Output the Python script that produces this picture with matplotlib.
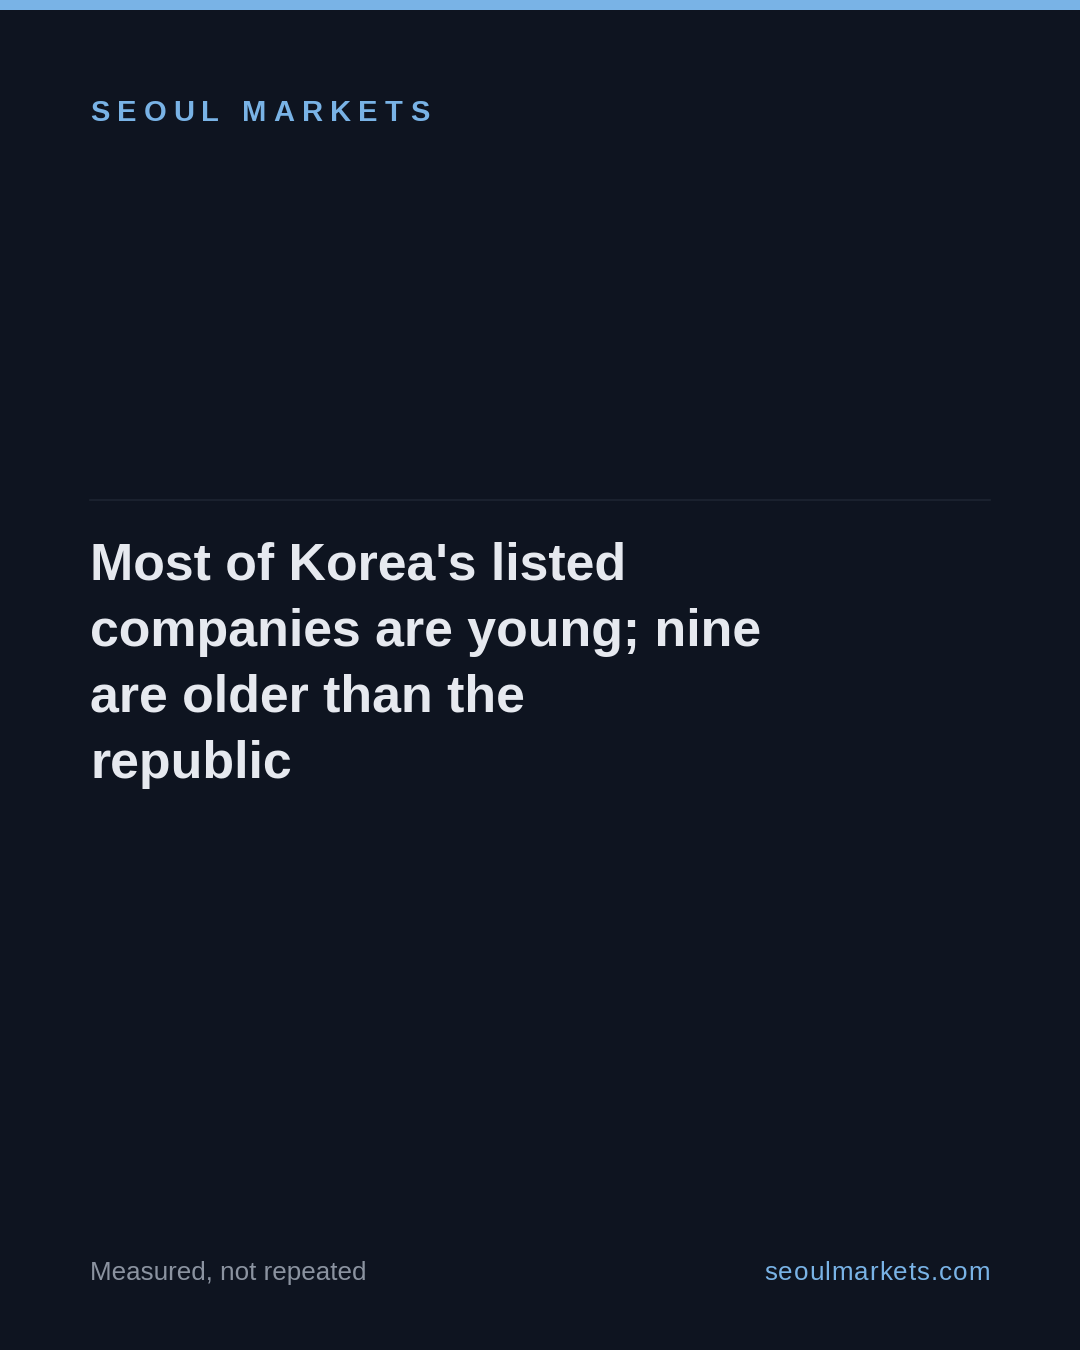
import matplotlib
matplotlib.use("Agg")
import matplotlib.pyplot as plt
from matplotlib.patches import Rectangle
from matplotlib.lines import Line2D

W, H = 1080, 1350
bg = "#0e1420"
accent = "#79b3e6"

brand = "SEOUL MARKETS"
title_lines = ["Most of Korea's listed", "companies are young; nine", "are older than the", "republic"]
footer_left = "Measured, not repeated"
footer_right = "seoulmarkets.com"

plt.rcParams["font.family"] = ["Liberation Sans", "DejaVu Sans"]

fig = plt.figure(figsize=(W / 100, H / 100), dpi=100)
fig.patch.set_facecolor(bg)

def px(x, y):
    # pixel coords from top-left to figure fraction
    return x / W, 1 - y / H

def spaced(text, x, y, gap, **kw):
    # draw text char by char with extra tracking, returns end x
    r = fig.canvas.get_renderer()
    for ch in text:
        t = fig.text(*px(x, y), ch, ha="left", va="baseline", **kw)
        w = t.get_window_extent(r).width if ch != " " else kw["fontsize"] * 0.28 * 100 / 72
        x += w + gap
    return x

fig.canvas.draw()

# top accent bar
fig.patches.append(Rectangle((0, 1 - 10 / H), 1, 10 / H, transform=fig.transFigure,
                             facecolor=accent, edgecolor="none"))

# brand
spaced(brand, 90, 121, 7.2, fontsize=21, fontweight="bold", color=accent)

# divider
fig.lines.append(Line2D([90 / W, 990 / W], [1 - 499.5 / H] * 2, transform=fig.transFigure,
                        color="#1d2431", lw=1.2))

# title
for i, line in enumerate(title_lines):
    fig.text(*px(90, 580 + i * 66), line, fontsize=37.4, fontweight="bold",
             color="#e6e9ef", ha="left", va="baseline")

# footer
fig.text(*px(90, 1280), footer_left, fontsize=18.7, color="#8b93a0", ha="left", va="baseline")
r = fig.canvas.get_renderer()
probe = fig.text(0, 0, footer_right, fontsize=18.7)
wr = probe.get_window_extent(r).width + 1.0 * (len(footer_right) - 1)
probe.remove()
spaced(footer_right, 990 - wr, 1280, 1.0, fontsize=18.7, color=accent)

fig.savefig("out.png", dpi=100, facecolor=bg)
